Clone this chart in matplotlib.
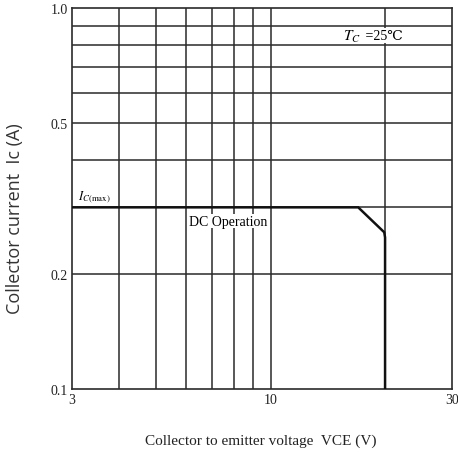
import matplotlib
matplotlib.use("Agg")
import matplotlib.pyplot as plt
from matplotlib.ticker import FixedLocator, NullLocator, FixedFormatter

plt.rcParams["mathtext.fontset"] = "stix"

# Data
vce = [3, 17, 19.9, 20, 20]
ic = [0.3, 0.3, 0.258, 0.25, 0.1]
x_grid = [4, 5, 6, 7, 8, 9, 10, 20]
y_grid = [0.2, 0.3, 0.4, 0.5, 0.6, 0.7, 0.8, 0.9]
x_ticks = [3, 10, 30]
x_ticklabels = ["3", "10", "30"]
y_ticks = [0.1, 0.2, 0.5, 1.0]
y_ticklabels = ["0.1", "0.2", "0.5", "1.0"]

serif = ["Liberation Serif", "DejaVu Serif"]

fig = plt.figure(figsize=(4.58, 4.56), dpi=100)
ax = fig.add_axes([0.1565, 0.1447, 0.8305, 0.835])
ax.set_xscale("log")
ax.set_yscale("log")
ax.set_xlim(3, 30)
ax.set_ylim(0.1, 1.0)

gc = "#2a2a2a"
for xv in x_grid:
    ax.axvline(xv, color=gc, lw=1.1, zorder=1)
for yv in y_grid:
    ax.axhline(yv, color=gc, lw=1.1, zorder=1)

ax.plot(vce, ic, color="#111111", lw=1.8, zorder=3, solid_joinstyle="miter")

for s in ax.spines.values():
    s.set_color(gc)
    s.set_linewidth(1.2)

ax.xaxis.set_major_locator(FixedLocator(x_ticks))
ax.xaxis.set_major_formatter(FixedFormatter(x_ticklabels))
ax.xaxis.set_minor_locator(NullLocator())
ax.yaxis.set_major_locator(FixedLocator(y_ticks))
ax.yaxis.set_major_formatter(FixedFormatter(y_ticklabels))
ax.yaxis.set_minor_locator(NullLocator())
ax.tick_params(axis="both", length=0, pad=3, labelsize=10, colors="#222222")
for lab in ax.get_xticklabels() + ax.get_yticklabels():
    lab.set_family("Liberation Serif")

bbox = dict(facecolor="white", edgecolor="none", pad=0.5)
ax.text(17.3, 0.848, r"$T_C$", fontsize=11, family=serif,
        ha="right", va="center", zorder=4)
ax.text(17.4, 0.848, " =25℃", fontsize=10, family=serif,
        ha="left", va="center", bbox=bbox, zorder=4)
ax.text(3.12, 0.322, r"$I_{C(\mathrm{max})}$", fontsize=9, family=serif,
        ha="left", va="center", bbox=bbox, zorder=4)
ax.text(7.75, 0.276, "DC Operation", fontsize=10, family=serif,
        ha="center", va="center", bbox=bbox, zorder=4)

fig.text(0.033, 0.52, "Collector current  Ic (A)", rotation=90, fontsize=13,
         family="Open Sans", color="#333333", ha="center", va="center")
fig.text(0.57, 0.032, "Collector to emitter voltage  VCE (V)", fontsize=11,
         family="Liberation Serif", color="#222222", ha="center", va="center")

fig.savefig("out.png", dpi=100)
